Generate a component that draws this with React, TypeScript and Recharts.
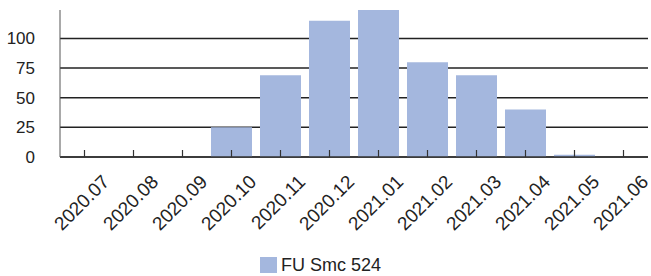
import React from "react";
import { BarChart, Bar, XAxis, YAxis, CartesianGrid } from "recharts";

const months = [
  "2020.07", "2020.08", "2020.09", "2020.10", "2020.11", "2020.12",
  "2021.01", "2021.02", "2021.03", "2021.04", "2021.05", "2021.06",
];
const counts = [0, 0, 0, 25, 69, 115, 124, 80, 69, 40, 2, 0];
const yTicks = [0, 25, 50, 75, 100];
const seriesName = "FU Smc 524";

const data = months.map((m, i) => ({ month: m, value: counts[i] }));

const BAR_COLOR = "#a4b7de";
const FONT = "'Liberation Sans', Arial, sans-serif";

const MonthTick = (props: any) => {
  const { x, y, payload } = props;
  return (
    <g>
      <line x1={x} x2={x} y1={y - 7} y2={y} stroke="#333" strokeWidth={1.2} />
      <text
        transform={`translate(${x + 26},${y + 26}) rotate(-45)`}
        textAnchor="end"
        fontSize={19}
        fontFamily={FONT}
        fill="#222"
      >
        {payload.value}
      </text>
    </g>
  );
};

export default function App() {
  return (
    <div style={{ position: "absolute", left: 0, top: 0, width: 651, height: 276, background: "#fff", overflow: "hidden" }}>
      <BarChart width={651} height={276} data={data} margin={{ top: 10, right: 3, left: 0, bottom: 0 }}>
        <CartesianGrid vertical={false} stroke="#222" strokeWidth={1.5} syncWithTicks />
        <XAxis
          dataKey="month"
          interval={0}
          height={119}
          tickSize={0}
          tickMargin={0}
          tickLine={false}
          tick={<MonthTick />}
          axisLine={{ stroke: "#333", strokeWidth: 1.5 }}
        />
        <YAxis
          domain={[0, 123]}
          ticks={yTicks}
          width={60}
          tickLine={false}
          tickSize={0}
          tickMargin={25}
          axisLine={{ stroke: "#555" }}
          tick={{ fontSize: 17, fill: "#222", fontFamily: FONT }}
        />
        <Bar dataKey="value" name={seriesName} fill={BAR_COLOR} barSize={41} isAnimationActive={false} />
      </BarChart>
      <div style={{ position: "absolute", left: 260, top: 257, display: "flex", alignItems: "center", fontFamily: FONT, fontSize: 18, color: "#222" }}>
        <span style={{ width: 17, height: 16, background: BAR_COLOR, display: "inline-block", marginRight: 4 }} />
        <span style={{ lineHeight: "16px" }}>{seriesName}</span>
      </div>
    </div>
  );
}
